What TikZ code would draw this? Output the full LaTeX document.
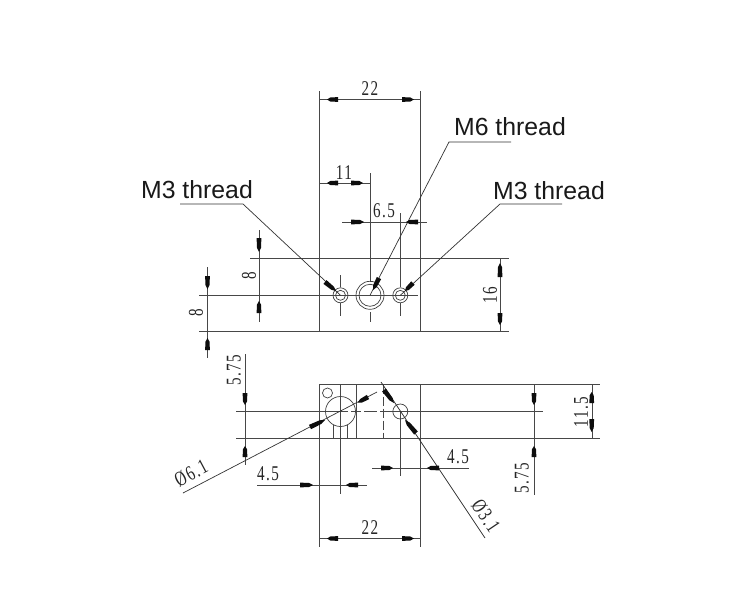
\documentclass[tikz,border=0pt]{standalone}
\usepackage{fontspec}
\setmainfont{Liberation Sans}
\newfontfamily\dimfont[LetterSpace=10]{Liberation Serif}
\usetikzlibrary{calc}
\newcommand{\dt}[1]{\scalebox{.72}[1]{#1}}
\newcommand{\hd}[2]{\fill[black!95] (#1) -- ($(#1)!.3!(#2)!2pt!90:(#2)$) -- ($(#2)!2.4pt!-90:(#1)$) -- ($(#2)!2.4pt!90:(#1)$) -- ($(#1)!.3!(#2)!2pt!-90:(#2)$) -- cycle;}
\tikzset{
  x=1pt,y=-1pt,
  ln/.style={line width=1pt,black!72},
  thin line/.style={line width=0.7pt,black!80},
  hole/.style={line width=0.7pt,black!75},
  dimtxt/.style={font=\dimfont\fontsize{21}{21}\selectfont,inner sep=0pt,text=black!85},
  lab/.style={font=\fontsize{24.8}{26}\selectfont,inner sep=0pt,text=black!90},
}
\begin{document}
\begin{tikzpicture}
\useasboundingbox (0,0) rectangle (750,600);
\fill[white] (0,0) rectangle (750,600);
% TOP VIEW
\draw[ln] (319,91) -- (319,331.5);
\draw[ln] (420.5,91) -- (420.5,331.5);
\draw[ln] (250,258) -- (509,258);
\draw[ln] (199,295.3) -- (418,295.3);
\draw[ln] (199,331.5) -- (509,331.5);
\draw[ln] (370,173) -- (370,282);
\draw[ln] (370,312) -- (370,322);
\draw[ln] (400.3,213) -- (400.3,287);
\draw[ln] (400.3,303) -- (400.3,316);
\draw[ln] (340.5,275) -- (340.5,287);
\draw[ln] (340.5,303) -- (340.5,316);
\draw[hole] (340.5,295.3) circle (7.5) circle (5);
\draw[hole] (370,295.3) circle (14) circle (11);
\draw[hole] (400.3,295.3) circle (7.5) circle (5);
% top dims
\draw[ln] (319,99.5) -- (420.5,99.5);
\draw[ln] (319,183) -- (370,183);
\draw[ln] (342,222) -- (427,222);
\draw[ln] (259,230) -- (259,322);
\draw[ln] (207.5,267) -- (207.5,358);
\draw[ln] (500,258) -- (500,331.5);
% leaders
\draw[thin line] (180,204) -- (243,204) -- (340.5,295.3);
\draw[thin line] (511,142) -- (449,142) -- (370,295.3);
\draw[thin line] (562,204) -- (500,204) -- (400.3,295.3);
% BOTTOM VIEW
\draw[ln] (319,384.5) -- (600,384.5);
\draw[ln] (319,384.5) -- (319,547);
\draw[ln] (420.5,384.5) -- (420.5,547);
\draw[ln] (236,411.5) -- (348,411.5) (351,411.5) -- (361,411.5) (364,411.5) -- (377,411.5) (380,411.5) -- (543,411.5);
\draw[ln] (236,438) -- (600,438);
\draw[ln] (340.5,384.5) -- (340.5,494);
\draw[ln] (356.5,384.5) -- (356.5,438);
\draw[ln,dash pattern=on 9pt off 3pt] (383,384.5) -- (383,438);
\draw[ln] (400.3,411.5) -- (400.3,476);
\draw[ln] (333,425) -- (333,438);
\draw[ln] (347,425) -- (347,438);
\draw[hole] (340.5,411.5) circle (15);
\draw[hole] (327.5,393) circle (5);
\draw[hole] (400.3,411.5) circle (7.5);
\draw[ln] (319,538.5) -- (420.5,538.5);
\draw[ln] (245,354) -- (245,465);
\draw[ln] (534,384.5) -- (534,494.5);
\draw[ln] (592,384.5) -- (592,438);
\draw[ln] (257,485) -- (367,485);
\draw[ln] (372,468) -- (469,468);
\draw[thin line] (183,493) -- (377,392);
\draw[thin line] (381,382) -- (485,538);
% arrowheads: tip, base
\hd{327,99.5}{338,99.5} \hd{414,99.5}{402,99.5}
\hd{327,183}{338,183} \hd{363,183}{351,183}
\hd{364,222}{351,222} \hd{406,222}{418,222}
\hd{259,252}{259,238} \hd{259,301}{259,313}
\hd{207.5,289}{207.5,276} \hd{207.5,338}{207.5,350}
\hd{500,263}{500,277} \hd{500,325}{500,313}
\hd{336,291}{325,282} \hd{373,290}{379,278} \hd{405,291}{413,283}
\hd{327,538.5}{338,538.5} \hd{414,538.5}{402,538.5}
\hd{245,405}{245,393} \hd{245,446}{245,457}
\hd{534,405}{534,393} \hd{534,446}{534,457}
\hd{591.7,392}{591.7,403} \hd{591.7,432}{591.7,419}
\hd{313,485}{300,485} \hd{346,485}{358,485}
\hd{393,468}{381,468} \hd{427,468}{439,468}
\hd{325,420}{310,427} \hd{358,402.5}{368,397}
\hd{394,403}{384,390} \hd{405,420}{416,433}
% label text
\node[lab] (m3l) at (197,190) {M3 thread};
\node[lab] (m6) at (510,127) {M6 thread};
\node[lab] (m3r) at (549,191) {M3 thread};
\node[dimtxt] (d22a) at (370,89) {\dt{22}};
\node[dimtxt] (d11) at (344,172.5) {\dt{11}};
\node[dimtxt] (d65) at (384,211) {\dt{6.5}};
\node[dimtxt,rotate=90] (d8a) at (249,276) {\dt{8}};
\node[dimtxt,rotate=90] (d8b) at (196,313) {\dt{8}};
\node[dimtxt,rotate=90] (d16) at (490,295) {\dt{16}};
\node[dimtxt,rotate=90] (d575a) at (234,370) {\dt{5.75}};
\node[dimtxt,rotate=90] (d575b) at (522,478) {\dt{5.75}};
\node[dimtxt,rotate=90] (d115) at (581,412) {\dt{11.5}};
\node[dimtxt] (d45a) at (268,474) {\dt{4.5}};
\node[dimtxt] (d45b) at (458,457) {\dt{4.5}};
\node[dimtxt] (d22b) at (370,528) {\dt{22}};
\node[dimtxt,rotate=28] (d61) at (191,473) {\dt{Ø6.1}};
\node[dimtxt,rotate=-56] (d31) at (486,516) {\dt{Ø3.1}};
\end{tikzpicture}
\end{document}
